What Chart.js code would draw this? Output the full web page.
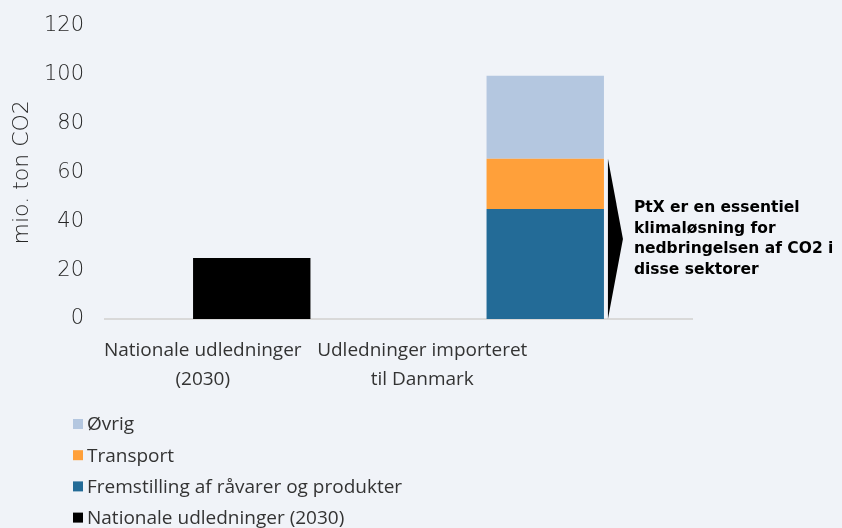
<!DOCTYPE html>
<html>
<head>
<meta charset="utf-8">
<script src="https://cdn.jsdelivr.net/npm/chart.js@4"></script>
<style>
  html, body { margin: 0; padding: 0; background: #f0f3f8; }
  #wrap { width: 842px; height: 528px; position: relative; }
</style>
</head>
<body>
<div id="wrap"><canvas id="chart"></canvas></div>
<script>
const categories = [['Nationale udledninger', '(2030)'], ['Udledninger importeret', 'til Danmark']];
const nationale = [25, null];
const fremstilling = [null, 45];
const transport = [null, 20.5];
const oevrig = [null, 34];
const yTicks = [0, 20, 40, 60, 80, 100, 120];
const noteLines = ['PtX er en essentiel', 'klimaløsning for', 'nedbringelsen af CO2 i', 'disse sektorer'];

const fontFamily = '"Open Sans", sans-serif';
const wideFont = '"DejaVu Sans", sans-serif';
const textColor = '#333333';
// the original puts the category labels left of the bar centres
const labelShift = [-49, -123];

// category labels, arrow + note next to the import bar, and the vertical legend underneath
const extras = {
    id: 'extras',
    afterDraw(chart) {
        const ctx = chart.ctx;
        const x = chart.scales.x;
        const y = chart.scales.y;
        ctx.save();

        ctx.fillStyle = textColor;
        ctx.font = '19px ' + fontFamily;
        ctx.textAlign = 'center';
        ctx.textBaseline = 'middle';
        categories.forEach((lines, i) => {
            lines.forEach((line, j) => {
                ctx.fillText(line, x.getPixelForValue(i) + labelShift[i], 351 + j * 29);
            });
        });

        const bar = chart.getDatasetMeta(1).data[1];
        const left = bar.x + bar.width / 2 + 4;
        const top = y.getPixelForValue(fremstilling[1] + transport[1]);
        const bottom = y.getPixelForValue(0);
        ctx.fillStyle = '#000';
        ctx.beginPath();
        ctx.moveTo(left, top);
        ctx.lineTo(left + 15, (top + bottom) / 2);
        ctx.lineTo(left, bottom);
        ctx.closePath();
        ctx.fill();

        ctx.textAlign = 'left';
        ctx.font = 'bold 15.5px ' + wideFont;
        noteLines.forEach((line, i) => {
            ctx.fillText(line, left + 26, 208 + i * 20.5);
        });

        const ds = chart.data.datasets.slice().reverse();
        ctx.font = '19px ' + fontFamily;
        ds.forEach((d, i) => {
            const cy = 424 + i * 31.2;
            ctx.fillStyle = d.backgroundColor;
            ctx.fillRect(73, cy - 5, 10, 10);
            ctx.fillStyle = textColor;
            ctx.fillText(d.label, 87, cy + 1);
        });
        ctx.restore();
    }
};

new Chart(document.getElementById('chart'), {
    type: 'bar',
    data: {
        labels: categories,
        datasets: [
            { label: 'Nationale udledninger (2030)', data: nationale, backgroundColor: '#000000' },
            { label: 'Fremstilling af råvarer og produkter', data: fremstilling, backgroundColor: '#236b97' },
            { label: 'Transport', data: transport, backgroundColor: '#ffa03a' },
            { label: 'Øvrig', data: oevrig, backgroundColor: '#b4c7e0' }
        ]
    },
    options: {
        responsive: true,
        maintainAspectRatio: false,
        animation: false,
        datasets: { bar: { categoryPercentage: 1, barPercentage: 0.4, skipNull: true } },
        layout: { padding: { top: 17, right: 150, left: 0, bottom: 0 } },
        plugins: { legend: { display: false }, tooltip: { enabled: false } },
        scales: {
            x: {
                stacked: true,
                grid: { display: false },
                border: { display: true, color: '#d9d9d9', width: 2 },
                ticks: { display: false },
                afterFit: s => { s.height = 209; }
            },
            y: {
                stacked: true,
                min: 0,
                max: 120,
                afterBuildTicks: s => { s.ticks = yTicks.map(v => ({ value: v })); },
                grid: { display: false },
                border: { display: false },
                ticks: { color: '#262626', font: { family: wideFont, size: 21, weight: 300 }, padding: 13 },
                title: { display: true, text: 'mio. ton CO2', color: '#262626', font: { family: wideFont, size: 22, weight: 300 }, padding: { top: 9, bottom: 0 } },
                afterFit: s => { s.width = 105; }
            }
        }
    },
    plugins: [extras]
});
</script>
</body>
</html>
